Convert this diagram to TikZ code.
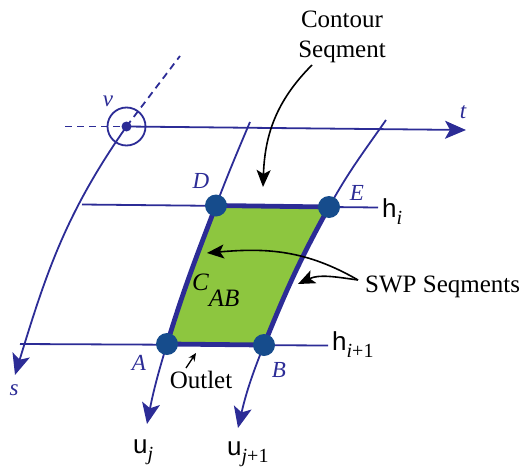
\documentclass[tikz,border=0pt]{standalone}
\usepackage{fontspec}
\setmainfont{Liberation Serif}
\setsansfont{Liberation Sans}
\usetikzlibrary{arrows.meta,positioning,calc}
\definecolor{gridBlue}{RGB}{44,44,150}
\definecolor{dotBlue}{RGB}{22,76,140}
\definecolor{swpGreen}{RGB}{141,198,63}
\newcommand{\gridlbl}[2]{{\sffamily #1}\raisebox{-7pt}{\fontsize{20}{22}\selectfont\rmfamily #2}}
\tikzset{
  gridline/.style={draw=gridBlue, line width=1.8pt},
  dashline/.style={gridline, dash pattern=on 7pt off 5pt},
  axisarrow/.style={-{Stealth[length=21pt,width=18pt,inset=5pt]}},
  callout/.style={draw=black, line width=1.6pt, -{Stealth[length=17pt,width=14pt,inset=4pt]}},
  ptlabel/.style={text=gridBlue, font=\fontsize{23}{26}\selectfont\rmfamily\itshape, inner sep=0pt, anchor=base},
  txtlabel/.style={font=\fontsize{25}{30}\selectfont\rmfamily, inner sep=0pt},
  gridtxt/.style={font=\fontsize{26}{28}\selectfont, inner sep=0pt, anchor=base west},
  knot/.style={circle, fill=dotBlue, minimum size=22pt, inner sep=0pt},
}
\begin{document}
\begin{tikzpicture}[x=1pt,y=1pt]
\useasboundingbox (0,0) rectangle (527,467);
% corner points of the cell
\coordinate (v) at (126.5,340.5);
\coordinate (D) at (216,261.5);
\coordinate (E) at (329,260);
\coordinate (A) at (167,123);
\coordinate (B) at (264,122);
% ends of the grid lines
\coordinate (vleft) at (65,340.5);
\coordinate (vdiag) at (180,411);
\coordinate (tend) at (466,337);
\coordinate (send) at (15,92);
\coordinate (hiL) at (82,262.5);
\coordinate (hiR) at (378,259.5);
\coordinate (hjL) at (20,123);
\coordinate (hjR) at (328,121.5);
\coordinate (dtop) at (250,345);
\coordinate (etop) at (386,347);
\coordinate (ujend) at (147,43);
\coordinate (ujjend) at (238,39);
% axes through v
\draw[dashline] (vleft) -- (v);
\draw[dashline] (v) -- (vdiag);
\draw[gridline, axisarrow] (v) -- (tend);
\draw[gridline, axisarrow] (v) to[out=-125,in=73] (send);
\draw[gridline] (v) circle[radius=19];
\fill[gridBlue] (v) circle[radius=5];
% grid lines
\draw[gridline] (hiL) -- (hiR);
\draw[gridline] (hjL) -- (hjR);
\draw[gridline, axisarrow] (dtop) to[out=-113,in=69] (D) to[out=-111,in=73] (A) to[out=-107,in=79] (ujend);
\draw[gridline, axisarrow] (etop) to[out=-125,in=61] (E) to[out=-119,in=68] (B) to[out=-112,in=77] (ujjend);
% the cell
\filldraw[fill=swpGreen, draw=gridBlue, line width=4.8pt, line join=round]
  (D) -- (E) to[out=-119,in=68] (B) -- (A) to[out=73,in=-111] cycle;
\node[knot] (dotD) at (D) {};
\node[knot] (dotE) at (E) {};
\node[knot] (dotA) at (A) {};
\node[knot] (dotB) at (B) {};
% point and axis labels
\node[ptlabel] (lv) at (108,360) {v};
\node[ptlabel] (lt) at (463,349) {t};
\node[ptlabel] (ls) at (14,72) {s};
\node[ptlabel] (lD) at (201,279) {D};
\node[ptlabel] (lE) at (357,267) {E};
\node[ptlabel] (lA) at (139,97) {A};
\node[ptlabel] (lB) at (279,90) {B};
\node[anchor=base west, inner sep=0pt, font=\fontsize{25}{28}\selectfont\rmfamily\itshape]
  (lcab) at (192,177) {C\raisebox{-16pt}{AB}};
\node[gridtxt] (lhi) at (382,250) {\gridlbl{h}{\textit{i}}};
\node[gridtxt] (lhj) at (332,117) {\gridlbl{h}{\textit{i}+1}};
\node[gridtxt] (luj) at (133,14) {\gridlbl{u}{\textit{j}}};
\node[gridtxt] (lujj) at (227,12) {\gridlbl{u}{\textit{j}+1}};
% callouts
\node[txtlabel, align=center] (contour) at (342,430) {Contour\\Seqment};
\coordinate (cfrom) at (312,402);
\coordinate (cto) at (263,280);
\draw[callout] (cfrom) to[out=-135,in=88] (cto);
\node[txtlabel, anchor=base west] (swp) at (365,175) {SWP Seqments};
\coordinate (sfrom) at (358,187);
\coordinate (sto1) at (207,214);
\coordinate (sto2) at (298,183);
\draw[callout] (sfrom) to[out=150,in=5] (sto1);
\draw[callout] (sfrom) to[out=172,in=25] (sto2);
\node[txtlabel, anchor=base] (outlet) at (201,79) {Outlet};
\coordinate (ofrom) at (186,99);
\coordinate (oto) at (196,114);
\draw[black, line width=1.3pt, -{Stealth[length=8pt,width=7pt]}] (ofrom) -- (oto);
\end{tikzpicture}
\end{document}
